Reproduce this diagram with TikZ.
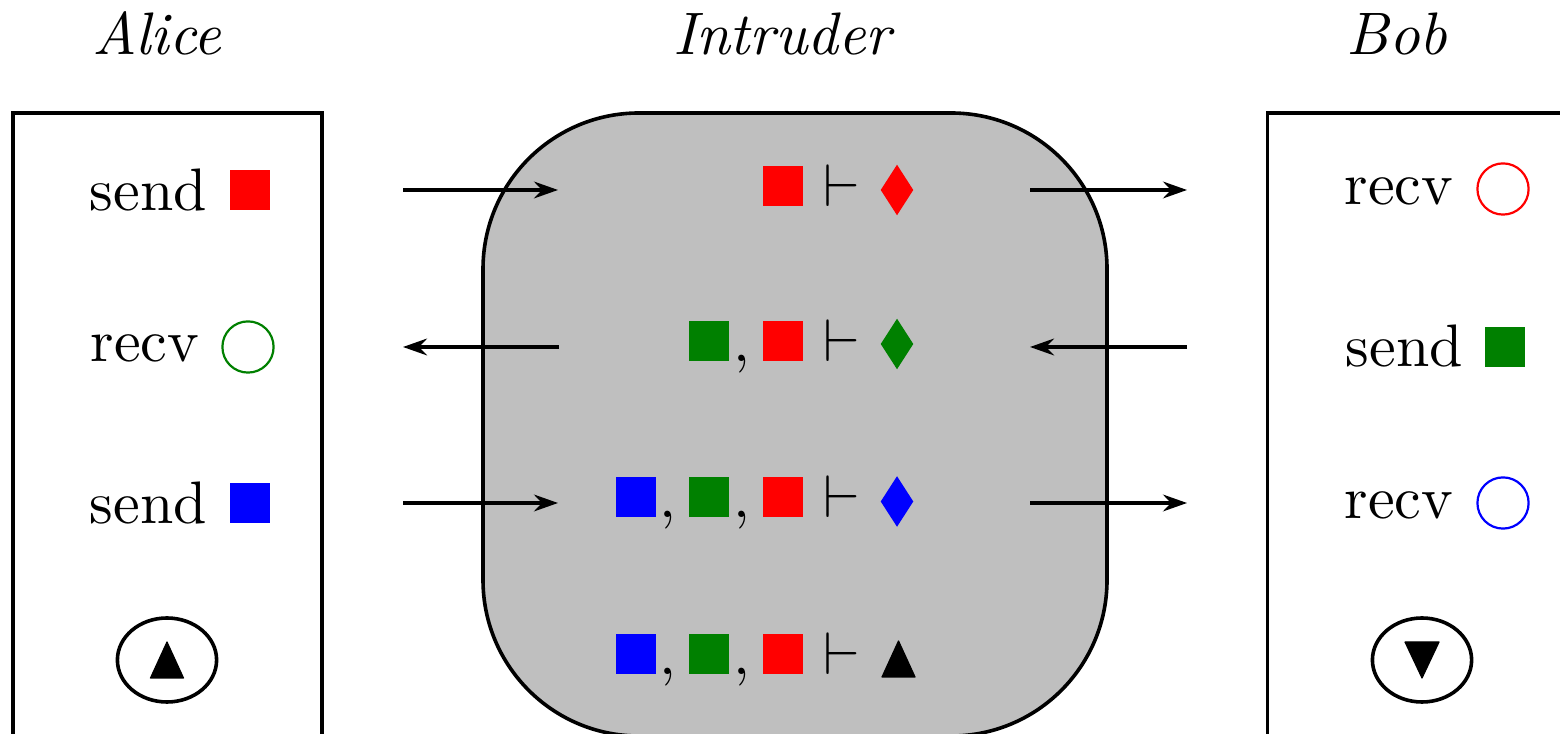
\documentclass[tikz,border=0pt]{standalone}
\usetikzlibrary{shapes.geometric,arrows.meta}
\definecolor{dgreen}{RGB}{0,128,0}
% text is set at the 10pt design size and enlarged
\newcommand{\bigtxt}[1]{\scalebox{1.5}{#1}}
\begin{document}
\begin{tikzpicture}[x=0.25pt,y=-0.25pt,
  every node/.style={inner sep=0pt},
  party/.style={draw, line width=0.9pt, rectangle},
  intruder/.style={draw, line width=0.9pt, fill=black!25, rounded corners=39pt},
  sq/.style={rectangle, minimum size=10pt, fill=#1},
  dia/.style={diamond, minimum width=8.3pt, minimum height=12.8pt, fill=#1},
  ring/.style={circle, minimum size=12.8pt, draw=#1, line width=0.55pt},
  goal/.style={ellipse, draw, line width=0.9pt, minimum width=24.8pt, minimum height=21pt},
  word/.style={anchor=base west},
  who/.style={anchor=base, font=\itshape},
  sym/.style={anchor=base},
  tri/.style={fill=black, draw=black, line width=0.3pt, line join=round},
  msg/.style={line width=0.8pt, -{Stealth[length=6pt,width=4.2pt,inset=2pt]}}]

\clip (0,0) rectangle (1560,734);

% participants' names
\node[who] (nA) at (157,55) {\bigtxt{Alice}};
\node[who] (nI) at (782,55) {\bigtxt{Intruder}};
\node[who] (nB) at (1397,55) {\bigtxt{Bob}};

% the three frames
\node[party, minimum width=77.25pt, minimum height=200pt] (alice) at (167.5,513) {};
\node[party, minimum width=88pt, minimum height=200pt] (bob) at (1443.5,513) {};
\node[intruder, minimum width=156pt, minimum height=155.75pt] (intr) at (795,424.5) {};

% Alice
\node[word] (as1) at (89,211) {\bigtxt{send}};
\node[sq=red] (am1) at (250,190) {};
\node[word] (ar2) at (90,362) {\bigtxt{recv}};
\node[ring=dgreen] (am2) at (248,347) {};
\node[word] (as3) at (89,524) {\bigtxt{send}};
\node[sq=blue] (am3) at (250,503) {};
\node[goal] (ag) at (167,660) {};
\fill[tri, shift={(ag.center)}] (-16.5,18) -- (16.5,18) -- (0,-18) -- cycle;

% Bob
\node[word] (br1) at (1344,205) {\bigtxt{recv}};
\node[ring=red] (bm1) at (1503,189) {};
\node[word] (bs2) at (1345,367) {\bigtxt{send}};
\node[sq=dgreen] (bm2) at (1505,347) {};
\node[word] (br3) at (1344,519) {\bigtxt{recv}};
\node[ring=blue] (bm3) at (1503,503) {};
\node[goal] (bg) at (1422,660) {};
\fill[tri, shift={(bg.center)}] (-17,-18) -- (17,-18) -- (0,18) -- cycle;

% Intruder knowledge, row 1
\node[sq=red] (k1r) at (783,186.5) {};
\node[sym] (d1) at (842,207) {\bigtxt{$\vdash$}};
\node[dia=red] (g1) at (897,190) {};

% row 2
\node[sq=dgreen] (k2g) at (709,341) {};
\node[sym] (c2b) at (742,362) {\bigtxt{$,$}};
\node[sq=red] (k2r) at (783,341) {};
\node[sym] (d2) at (842,362) {\bigtxt{$\vdash$}};
\node[dia=dgreen] (g2) at (897,344) {};

% row 3
\node[sq=blue] (k3b) at (635.5,497.5) {};
\node[sym] (c3a) at (668,518) {\bigtxt{$,$}};
\node[sq=dgreen] (k3g) at (709,497.5) {};
\node[sym] (c3b) at (742,518) {\bigtxt{$,$}};
\node[sq=red] (k3r) at (783,497.5) {};
\node[sym] (d3) at (842,518) {\bigtxt{$\vdash$}};
\node[dia=blue] (g3) at (897,501.5) {};

% row 4
\node[sq=blue] (k4b) at (635.5,654.5) {};
\node[sym] (c4a) at (668,675) {\bigtxt{$,$}};
\node[sq=dgreen] (k4g) at (709,654.5) {};
\node[sym] (c4b) at (742,675) {\bigtxt{$,$}};
\node[sq=red] (k4r) at (783,654.5) {};
\node[sym] (d4) at (842,675) {\bigtxt{$\vdash$}};
\coordinate (g4) at (898.5,659);
\fill[tri, shift={(g4)}] (-16.5,18) -- (16.5,18) -- (0,-18) -- cycle;

% message channels
\coordinate (p1a) at (403,190);  \coordinate (p1b) at (558,190);
\coordinate (q1a) at (1030,190); \coordinate (q1b) at (1187,190);
\coordinate (p2a) at (403,347);  \coordinate (p2b) at (559,347);
\coordinate (q2a) at (1030,347); \coordinate (q2b) at (1187,347);
\coordinate (p3a) at (403,503);  \coordinate (p3b) at (558,503);
\coordinate (q3a) at (1030,503); \coordinate (q3b) at (1187,503);

\draw[msg] (p1a) -- (p1b);
\draw[msg] (q1a) -- (q1b);
\draw[msg] (p2b) -- (p2a);
\draw[msg] (q2b) -- (q2a);
\draw[msg] (p3a) -- (p3b);
\draw[msg] (q3a) -- (q3b);
\end{tikzpicture}
\end{document}
